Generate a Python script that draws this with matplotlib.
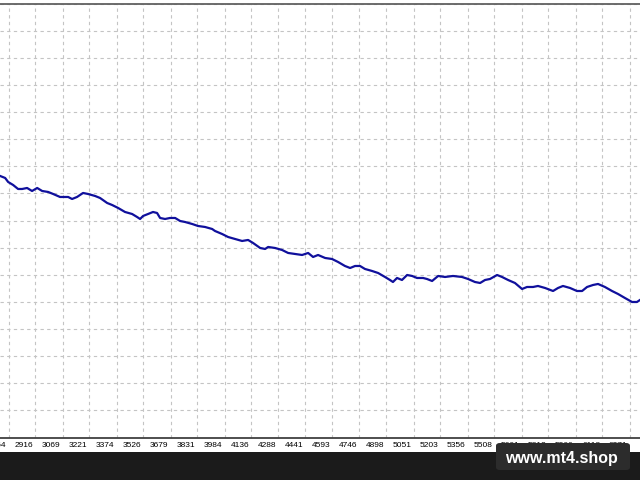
import matplotlib
matplotlib.use('Agg')
from matplotlib import pyplot as plt
from matplotlib.patches import Rectangle, FancyBboxPatch
import matplotlib.transforms as mtransforms

# trade number vs balance
trades = [2717, 2745, 2762, 2790, 2818, 2841, 2869, 2897, 2926, 2954,
          2988, 3016, 3055, 3084, 3101, 3123, 3151, 3185, 3213, 3253,
          3281, 3321, 3349, 3383, 3422, 3462, 3490, 3507, 3524, 3552,
          3580, 3603, 3620, 3648, 3676, 3705, 3733, 3761, 3801, 3834,
          3874, 3914, 3930, 3970, 4004, 4043, 4083, 4117, 4145, 4185,
          4213, 4230, 4269, 4309, 4343, 4382, 4422, 4456, 4484, 4512,
          4552, 4591, 4625, 4664, 4693, 4721, 4749, 4777, 4817, 4851,
          4890, 4918, 4935, 4958, 4986, 5015, 5043, 5071, 5105, 5127,
          5156, 5190, 5229, 5274, 5325, 5359, 5398, 5427, 5455, 5483,
          5523, 5551, 5585, 5624, 5664, 5692, 5726, 5754, 5794, 5839,
          5867, 5895, 5935, 5974, 6003, 6031, 6065, 6093, 6132, 6172,
          6206, 6245, 6285, 6313, 6330]
balance = [964.1, 956.8, 942.0, 931.0, 916.2, 916.2, 919.9, 908.8, 919.9, 908.8,
           905.2, 897.8, 886.7, 886.7, 886.7, 879.3, 886.7, 901.5, 897.8, 890.4,
           883.0, 864.6, 857.2, 846.2, 831.4, 824.0, 813.0, 805.6, 816.7, 824.0,
           831.4, 827.7, 809.3, 805.6, 809.3, 809.3, 798.2, 794.5, 787.2, 779.8,
           776.1, 768.7, 761.4, 750.3, 739.2, 731.9, 724.5, 728.2, 717.1, 698.7,
           695.0, 702.4, 698.7, 691.3, 680.3, 676.6, 672.9, 680.3, 665.5, 672.9,
           661.8, 658.1, 647.1, 632.3, 624.9, 632.3, 632.3, 621.3, 613.9, 606.5,
           591.8, 580.7, 573.3, 588.1, 580.7, 599.1, 595.5, 588.1, 588.1, 584.4,
           577.0, 595.5, 591.8, 595.5, 591.8, 584.4, 573.3, 569.6, 580.7, 584.4,
           599.1, 591.8, 580.7, 569.6, 547.5, 554.9, 554.9, 558.6, 551.2, 540.1,
           551.2, 558.6, 551.2, 540.1, 540.1, 554.9, 562.3, 566.0, 554.9, 540.1,
           529.1, 514.3, 499.6, 499.6, 507.0]

tick_labels = [2764, 2916, 3069, 3221, 3374, 3526, 3679, 3831, 3984, 4136,
               4288, 4441, 4593, 4746, 4898, 5051, 5203, 5356, 5508, 5661,
               5813, 5966, 6118, 6271]

fig = plt.figure(figsize=(6.4, 4.8), dpi=100)
fig.patch.set_facecolor('white')

# dark strip at the bottom of the screenshot
fig.patches.append(Rectangle((0, 0), 1, 28 / 480, transform=fig.transFigure,
                             facecolor='#1b1b1b', edgecolor='none', zorder=0))

ax = fig.add_axes([0, 42.5 / 480, 1, 434 / 480])
ax.plot(trades, balance, color='#10109c', linewidth=1.6, zorder=3)
ax.set_yticks(range(0, 1601, 100))
ax.set_yticklabels([])
ax.tick_params(axis='y', length=0)
ax.set_xticks(tick_labels)
ax.set_xticklabels([str(t) for t in tick_labels], fontsize=6,
                   family='Liberation Sans')
ax.tick_params(axis='x', length=0, pad=3.5)
shift = mtransforms.ScaledTranslation(-2 / 100, 0, fig.dpi_scale_trans)
for lab in ax.get_xticklabels():
    lab.set_horizontalalignment('right')
    lab.set_transform(lab.get_transform() + shift)
ax.set_xlim(2716, 6330)
ax.set_ylim(0, 1600)
ax.grid(True, color='#c4c4c4', linestyle=(0, (3, 3)), linewidth=0.8)
ax.set_axisbelow(True)
ax.spines['left'].set_visible(False)
ax.spines['right'].set_visible(False)
ax.spines['bottom'].set_color('#404040')
ax.spines['bottom'].set_linewidth(1.3)
ax.spines['top'].set_color('#606060')
ax.spines['top'].set_linewidth(1.3)

# watermark
box = FancyBboxPatch((496 / 640, 10 / 480), 134 / 640, 27 / 480,
                     boxstyle='round,pad=0,rounding_size=0.006',
                     transform=fig.transFigure, facecolor='#2c2c2c',
                     edgecolor='none', zorder=5)
fig.patches.append(box)
fig.text(0.8777, 0.0455, 'www.mt4.shop', color='white', fontsize=11.5,
         fontweight='bold', family='Liberation Sans', ha='center', va='center',
         zorder=6)

fig.savefig('out.png', dpi=100)
